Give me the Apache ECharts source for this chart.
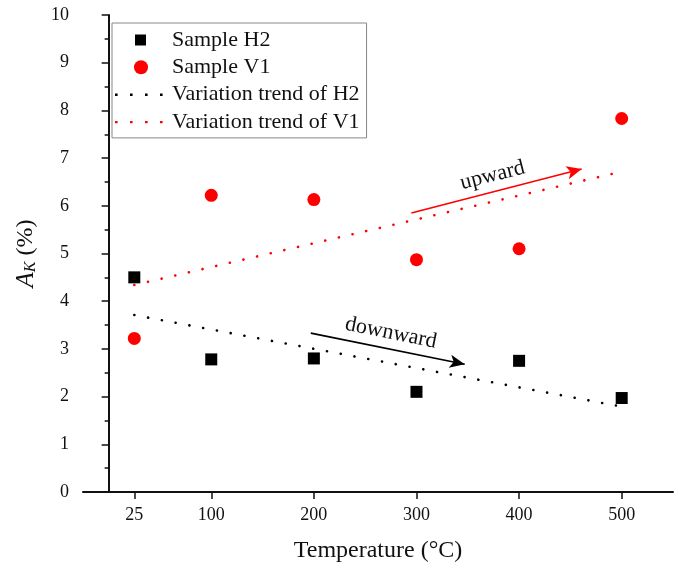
<!DOCTYPE html>
<html>
<head>
<meta charset="utf-8">
<script src="https://cdn.jsdelivr.net/npm/echarts@6/dist/echarts.min.js"></script>
<style>html,body{margin:0;padding:0;background:#fff;}#c{width:680px;height:573px;}</style>
</head>
<body>
<div id="c"></div>
<script>
const temps = [25, 100, 200, 300, 400, 500];
const sampleH2 = [4.5, 2.78, 2.8, 2.1, 2.75, 1.97];
const sampleV1 = [3.22, 6.22, 6.13, 4.87, 5.1, 7.83];
const trendX = [25, 495];
const trendH2 = [3.71, 1.81];
const trendV1 = [4.34, 6.69];
const xTickValues = [25, 100, 200, 300, 400, 500];
const arrowUp = [[295, 5.85], [461, 6.77]];
const arrowDown = [[197, 3.33], [347, 2.68]];
const seriesNames = ['Sample H2', 'Sample V1', 'Variation trend of H2', 'Variation trend of V1'];

const FONT = 'Liberation Serif';
const zip = (xs, ys) => xs.map((x, i) => [x, ys[i]]);

// legend icons drawn in a 52x14 box (tiny corner marks fix the bounding box)
const BOX = 'M0,0h0.01v0.01h-0.01z M51.99,13.99h0.01v0.01h-0.01z ';
const squareIcon = 'path://' + BOX + 'M20,1.5h11v11h-11z';
const dotsIcon = 'path://' + BOX + 'M0,6h2.6v2.4h-2.6z M15,6h2.6v2.4h-2.6z M30,6h2.6v2.4h-2.6z M45,6h2.6v2.4h-2.6z';

const chart = echarts.init(document.getElementById('c'), null, {renderer: 'canvas'});
chart.setOption({
  animation: false,
  backgroundColor: '#fff',
  textStyle: {fontFamily: FONT},
  grid: {left: 83, right: 7, top: 15, bottom: 81},
  legend: {
    orient: 'vertical', left: 112, top: 23,
    data: [
      {name: seriesNames[0], icon: squareIcon},
      {name: seriesNames[1], icon: 'circle'},
      {name: seriesNames[2], icon: dotsIcon},
      {name: seriesNames[3], icon: dotsIcon}
    ],
    itemWidth: 52, itemHeight: 14, itemGap: 5.3,
    padding: [6, 7, 5, 3],
    borderColor: '#888', borderWidth: 1,
    textStyle: {fontFamily: FONT, fontSize: 22, color: '#111'}
  },
  xAxis: {
    type: 'value', min: -25, max: 550,
    axisLine: {show: true, lineStyle: {color: '#111', width: 2}},
    axisTick: {show: true, inside: false, length: 7, lineStyle: {color: '#111', width: 1.5}, customValues: xTickValues},
    axisLabel: {customValues: xTickValues, fontFamily: FONT, fontSize: 18, color: '#111', margin: 14},
    splitLine: {show: false},
    name: 'Temperature (°C)', nameLocation: 'middle', nameGap: 47,
    nameTextStyle: {fontFamily: FONT, fontSize: 24, color: '#111'}
  },
  yAxis: {
    type: 'value', min: 0, max: 10, interval: 1,
    axisLine: {show: true, lineStyle: {color: '#111', width: 2}},
    axisTick: {show: true, inside: false, length: 7, lineStyle: {color: '#111', width: 1.5}},
    minorTick: {show: true, splitNumber: 2, length: 4, lineStyle: {color: '#111', width: 1.5}},
    axisLabel: {fontFamily: FONT, fontSize: 18, color: '#111', margin: 14},
    splitLine: {show: false},
    name: '{i|A}{s|K} (%)', nameLocation: 'middle', nameGap: 44,
    nameTextStyle: {
      fontFamily: FONT, fontSize: 24, color: '#111',
      rich: {
        i: {fontFamily: FONT, fontStyle: 'italic', fontSize: 25, color: '#111'},
        s: {fontFamily: FONT, fontStyle: 'italic', fontSize: 16, color: '#111', verticalAlign: 'bottom', padding: [10, 0, 0, 0]}
      }
    }
  },
  series: [
    {
      name: seriesNames[0], type: 'scatter', symbol: 'rect', symbolSize: 12,
      itemStyle: {color: '#000', opacity: 1}, data: zip(temps, sampleH2), z: 5
    },
    {
      name: seriesNames[1], type: 'scatter', symbol: 'circle', symbolSize: 13,
      itemStyle: {color: '#f00', opacity: 1}, data: zip(temps, sampleV1), z: 5
    },
    {
      name: seriesNames[2], type: 'line', symbol: 'none', showSymbol: false,
      lineStyle: {color: '#000', width: 2.6, type: [0.1, 13.9], cap: 'round'},
      itemStyle: {color: '#000'},
      data: zip(trendX, trendH2),
      markLine: {
        silent: true, symbol: ['none', 'arrow'], symbolSize: [10, 15],
        lineStyle: {color: '#000', width: 1.6, type: 'solid'},
        label: {show: true, formatter: 'downward', position: 'insideMiddleTop', distance: 5,
          fontFamily: FONT, fontSize: 22, color: '#111'},
        data: [[{coord: arrowDown[0]}, {coord: arrowDown[1]}]]
      }
    },
    {
      name: seriesNames[3], type: 'line', symbol: 'none', showSymbol: false,
      lineStyle: {color: '#f00', width: 2.6, type: [0.1, 13.9], cap: 'round'},
      itemStyle: {color: '#f00'},
      data: zip(trendX, trendV1),
      markLine: {
        silent: true, symbol: ['none', 'arrow'], symbolSize: [10, 15],
        lineStyle: {color: '#f00', width: 1.6, type: 'solid'},
        label: {show: true, formatter: 'upward', position: 'insideMiddleTop', distance: 5,
          fontFamily: FONT, fontSize: 22, color: '#111'},
        data: [[{coord: arrowUp[0]}, {coord: arrowUp[1]}]]
      }
    }
  ]
});
</script>
</body>
</html>
